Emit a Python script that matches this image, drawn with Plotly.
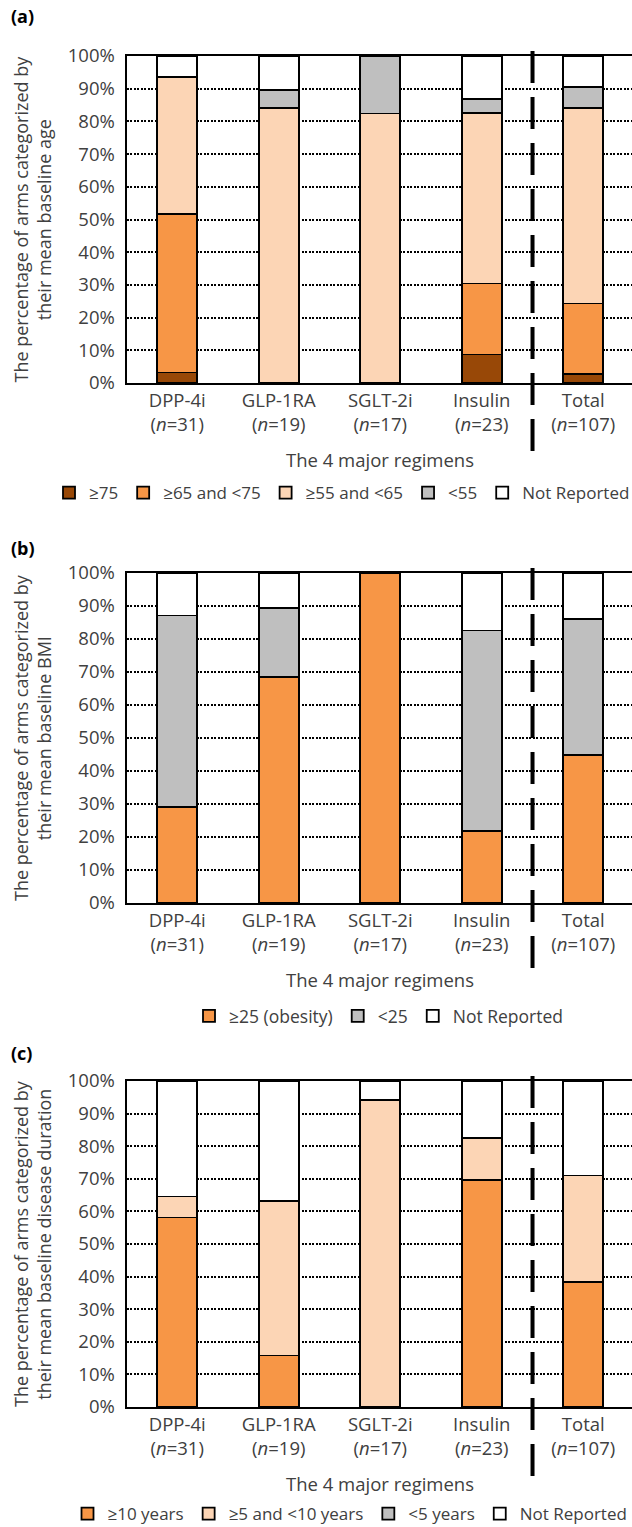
import plotly.graph_objects as go

# ---------------- data ----------------
regimens = ["DPP-4i", "GLP-1RA", "SGLT-2i", "Insulin", "Total"]
n_arms = [31, 19, 17, 23, 107]

# (a) mean baseline age (% of arms)
age_ge75 = [3.2, 0, 0, 8.7, 2.8]
age_65_75 = [48.4, 0, 0, 21.7, 21.5]
age_55_65 = [41.9, 84.2, 82.4, 52.2, 59.8]
age_lt55 = [0, 5.3, 17.6, 4.3, 6.5]
age_nr = [6.5, 10.5, 0, 13.0, 9.3]

# (b) mean baseline BMI (% of arms)
bmi_ge25 = [29.0, 68.4, 100, 21.7, 44.9]
bmi_lt25 = [58.1, 21.1, 0, 60.9, 41.1]
bmi_nr = [12.9, 10.5, 0, 17.4, 14.0]

# (c) mean baseline disease duration (% of arms)
dur_ge10 = [58.1, 15.8, 0, 69.6, 38.3]
dur_5_10 = [6.5, 47.4, 94.1, 13.0, 32.7]
dur_lt5 = [0, 0, 0, 0, 0]
dur_nr = [35.5, 36.8, 5.9, 17.4, 29.0]

y_ticks = [0, 10, 20, 30, 40, 50, 60, 70, 80, 90, 100]

# ---------------- style ----------------
W, H = 632, 1527
FONT = "Open Sans"
TXT = "#404040"
C_DARK = "#984807"
C_ORANGE = "#F79646"
C_PEACH = "#FCD5B5"
C_GRAY = "#BFBFBF"
C_WHITE = "#FFFFFF"
TICK_SIZE = 18.5

x_labels = [f"{r}<br>(<i>n</i>={n})" for r, n in zip(regimens, n_arms)]

def py(px):
    return 1 - px / H

panels = [
    dict(top=56, bottom=383, label="(a)", label_y=16,
         ytitle="The percentage of arms categorized by<br>their mean baseline age",
         series=[("≥75", age_ge75, C_DARK), ("≥65 and <75", age_65_75, C_ORANGE),
                 ("≥55 and <65", age_55_65, C_PEACH), ("<55", age_lt55, C_GRAY),
                 ("Not Reported", age_nr, C_WHITE)],
         leg_x=342, leg_y=493, leg_size=17),
    dict(top=573, bottom=903, label="(b)", label_y=548,
         ytitle="The percentage of arms categorized by<br>their mean baseline BMI",
         series=[("≥25 (obesity)", bmi_ge25, C_ORANGE), ("<25", bmi_lt25, C_GRAY),
                 ("Not Reported", bmi_nr, C_WHITE)],
         leg_x=379, leg_y=1016, leg_size=17.5),
    dict(top=1081, bottom=1407, label="(c)", label_y=1053,
         ytitle="The percentage of arms categorized by<br>their mean baseline disease duration",
         series=[("≥10 years", dur_ge10, C_ORANGE), ("≥5 and <10 years", dur_5_10, C_PEACH),
                 ("<5 years", dur_lt5, C_GRAY), ("Not Reported", dur_nr, C_WHITE)],
         leg_x=350, leg_y=1514, leg_size=17),
]

fig = go.Figure()
layout = dict(
    width=W, height=H, margin=dict(l=0, r=0, t=0, b=0, autoexpand=False),
    paper_bgcolor="white", plot_bgcolor="white",
    barmode="stack", bargap=0.605,
    font=dict(family=FONT, size=17, color=TXT),
    showlegend=True,
)
annotations = []
shapes = []
x_left = 126.5 / W

for i, p in enumerate(panels):
    k = "" if i == 0 else str(i + 1)
    xa, ya = "x" + k, "y" + k
    leg = "legend" + k
    for name, vals, col in p["series"]:
        fig.add_trace(go.Bar(
            x=x_labels, y=vals, name=name, xaxis=xa, yaxis=ya, legend=leg,
            marker=dict(color=col, line=dict(color="black", width=1.8)),
        ))
    layout["xaxis" + k] = dict(
        domain=[x_left, 1], anchor=ya, type="category",
        range=[-0.5, 4.48], showgrid=False, showline=True, linecolor="black",
        linewidth=2, mirror=True, ticks="", tickfont=dict(size=TICK_SIZE, color=TXT),
        fixedrange=True, automargin=False,
    )
    layout["yaxis" + k] = dict(
        domain=[py(p["bottom"]), py(p["top"])], anchor=xa,
        range=[0, 100], tickvals=y_ticks, ticktext=[f"{v}%" for v in y_ticks],
        showgrid=True, gridcolor="black", gridwidth=1.5, griddash="2px,1.5px",
        showline=True, linecolor="black", linewidth=2, ticks="",
        ticklabelstandoff=6, zeroline=False, tickfont=dict(size=TICK_SIZE, color=TXT),
        fixedrange=True, automargin=False,
    )
    layout[leg] = dict(
        orientation="h", xanchor="center", yanchor="middle",
        x=p["leg_x"] / W, y=py(p["leg_y"]), xref="paper", yref="paper",
        font=dict(size=p["leg_size"], color=TXT), bgcolor="rgba(0,0,0,0)",
        itemclick=False, itemdoubleclick=False, traceorder="normal",
    )
    # panel label
    annotations.append(dict(
        text=f"<b>{p['label']}</b>", x=9 / W, y=py(p["label_y"]),
        xref="paper", yref="paper", xanchor="left", yanchor="middle",
        showarrow=False, font=dict(size=18, color="black", family=FONT),
    ))
    # y axis title
    annotations.append(dict(
        text=p["ytitle"], x=32 / W, y=py((p["top"] + p["bottom"]) / 2),
        xref="paper", yref="paper", xanchor="center", yanchor="middle",
        textangle=-90, showarrow=False, font=dict(size=18, color=TXT, family=FONT),
    ))
    # x axis title
    annotations.append(dict(
        text="The 4 major regimens", x=2, y=py(p["bottom"] + 76),
        xref=xa, yref="paper", xanchor="center", yanchor="middle",
        showarrow=False, font=dict(size=TICK_SIZE, color=TXT, family=FONT),
    ))
    # dashed separator between the 4 regimens and Total
    shapes.append(dict(
        type="line", xref=xa, yref="paper", x0=3.5, x1=3.5,
        y0=py(p["top"] - 5), y1=py(p["bottom"] + 70),
        line=dict(color="black", width=4, dash="32px,14px"),
    ))

layout["annotations"] = annotations
layout["shapes"] = shapes
fig.update_layout(**layout)
fig.write_html(
    "out.html",
    config={"displayModeBar": False},
    post_script="document.body.style.margin='0';document.body.style.overflow='hidden';",
)
